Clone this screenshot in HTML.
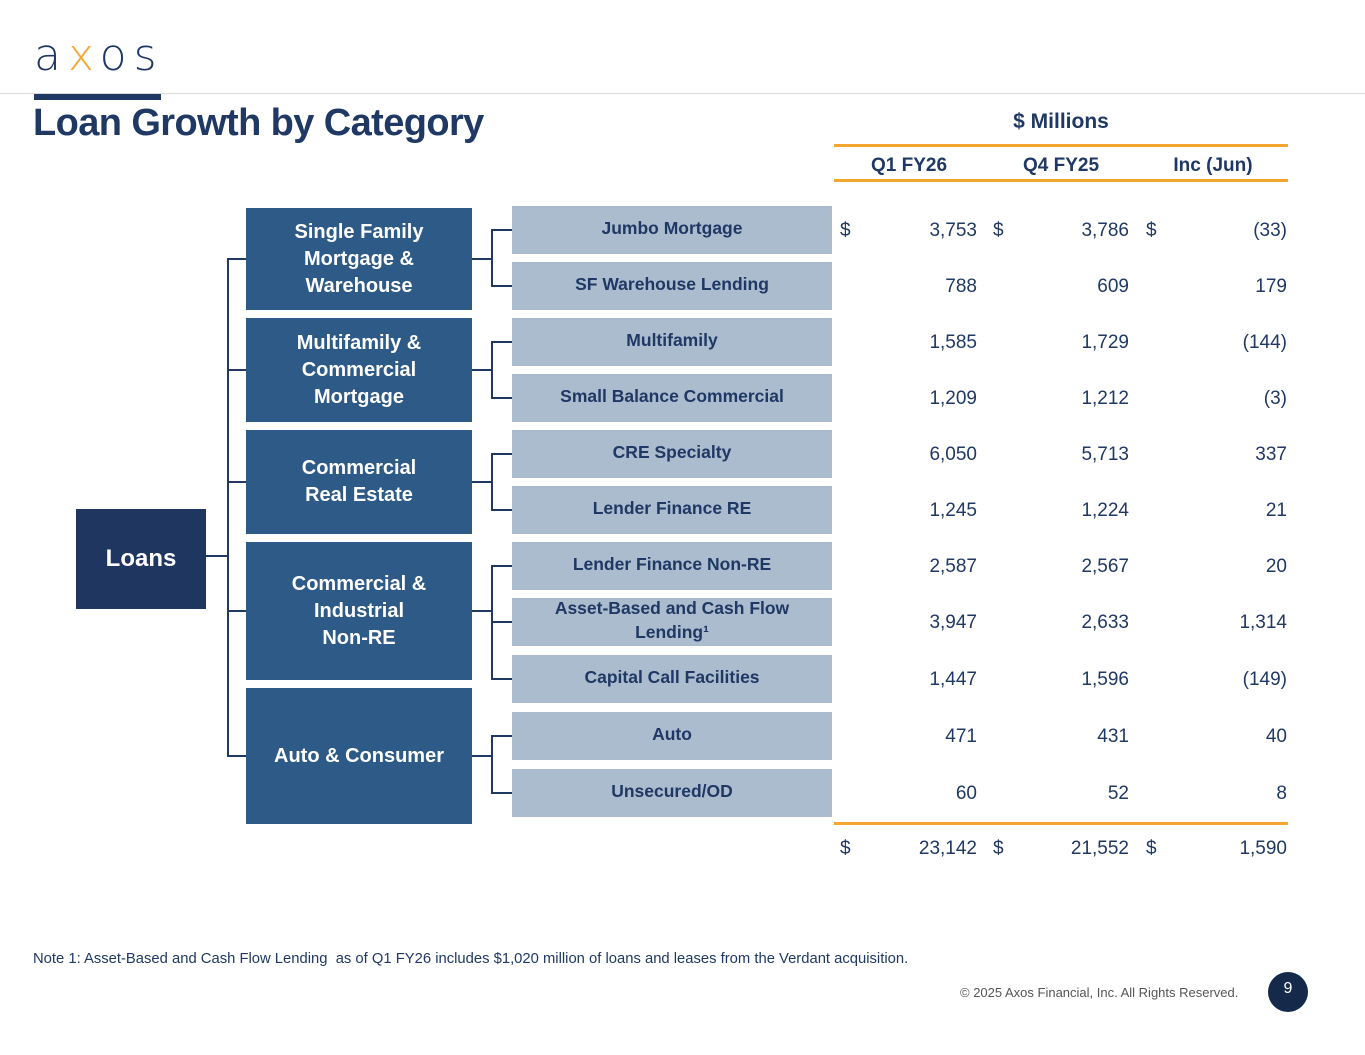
<!DOCTYPE html>
<html><head><meta charset="utf-8"><style>
body{margin:0;width:1365px;height:1055px;background:#fff;position:relative;overflow:hidden;font-family:"Liberation Sans",sans-serif;color:#1f3864}
.a{position:absolute}
.box{position:absolute;display:flex;align-items:center;justify-content:center;text-align:center;font-weight:bold;box-sizing:border-box}
.cat{background:#2e5a87;color:#fff;font-size:20px;line-height:27px}
.sub{background:#abbccf;color:#1f3864;font-size:17.5px;line-height:24px;padding-bottom:4px}
.num{position:absolute;font-size:19px;color:#1f3864}
.ln{position:absolute;background:#1f3864}
.or{position:absolute;background:#f4a630;height:3px;left:834px;width:454px}
</style></head><body>
<div class="a" style="left:34px;top:30px;font-size:44px;letter-spacing:7px;color:#1f3864;font-family:'DejaVu Sans',sans-serif;font-weight:300">a<span style="color:#f4a630">x</span>os</div>
<div class="a" style="left:0;top:93px;width:1365px;height:1px;background:#d9d9d9"></div>
<div class="a" style="left:34px;top:94px;width:127px;height:6px;background:#1f3864"></div>
<div class="a" style="left:33px;top:102px;font-size:38px;font-weight:bold;color:#1f3864;letter-spacing:-0.6px">Loan Growth by Category</div>

<div class="a" style="left:834px;width:454px;top:110px;text-align:center;font-size:21px;font-weight:bold">$ Millions</div>
<div class="or" style="top:144px"></div>
<div class="a" style="left:834px;width:150px;top:155px;text-align:center;font-size:19px;font-weight:bold">Q1 FY26</div>
<div class="a" style="left:986px;width:150px;top:155px;text-align:center;font-size:19px;font-weight:bold">Q4 FY25</div>
<div class="a" style="left:1138px;width:150px;top:155px;text-align:center;font-size:19px;font-weight:bold">Inc (Jun)</div>
<div class="or" style="top:179px"></div>
<div class="or" style="top:822px"></div>

<div class="box" style="left:76px;top:509px;width:130px;height:100px;background:#1e3660;color:#fff;font-size:24px">Loans</div>

<div id="tree"></div>

<div class="a" style="left:33px;top:951px;font-size:14.8px;color:#1f3864">Note 1: Asset-Based and Cash Flow Lending&nbsp; as of Q1 FY26 includes $1,020 million of loans and leases from the Verdant acquisition.</div>
<div class="a" style="left:960px;top:985px;font-size:13px;color:#555">© 2025 Axos Financial, Inc. All Rights Reserved.</div>
<div class="box" style="left:1268px;top:972px;width:40px;height:40px;border-radius:20px;background:#152a4a;color:#fff;font-size:16px;font-weight:normal;padding-bottom:6px">9</div>

<script>
const categories=["Single Family<br>Mortgage &amp;<br>Warehouse","Multifamily &amp;<br>Commercial<br>Mortgage","Commercial<br>Real Estate","Commercial &amp;<br>Industrial<br>Non-RE","Auto &amp; Consumer"];
const subcategories=["Jumbo Mortgage","SF Warehouse Lending","Multifamily","Small Balance Commercial","CRE Specialty","Lender Finance RE","Lender Finance Non-RE","Asset-Based and Cash Flow<br>Lending¹","Capital Call Facilities","Auto","Unsecured/OD"];
const subParent=[0,0,1,1,2,2,3,3,3,4,4];
const q1fy26=["3,753","788","1,585","1,209","6,050","1,245","2,587","3,947","1,447","471","60"];
const q4fy25=["3,786","609","1,729","1,212","5,713","1,224","2,567","2,633","1,596","431","52"];
const incJun=["(33)","179","(144)","(3)","337","21","20","1,314","(149)","40","8"];
const totals=["23,142","21,552","1,590"];

const root=document.getElementById('tree');
function mk(cls,st,html){const d=document.createElement('div');d.className=cls;d.style.cssText=st;if(html!==undefined)d.innerHTML=html;root.appendChild(d);return d;}
const subTop=[206,262,318,374,430,486,542,598,655,712,769];
const catBox=[[208,102],[318,104],[430,104],[542,138],[688,136]];
const subMid=subTop.map(t=>t+24);
subcategories.forEach((s,i)=>{
  const b=mk('box sub',`left:512px;top:${subTop[i]}px;width:320px;height:48px`,s);
  
  
  const cols=[[q1fy26,977,840],[q4fy25,1129,993],[incJun,1287,1146]];
  cols.forEach((c,k)=>{
    const n=mk('num',`left:${c[1]-120}px;width:120px;text-align:right;top:${subMid[i]-10}px`,c[0][i]);
    
    
    if(i===0){const d=mk('num',`left:${c[2]}px;top:${subMid[i]-10}px`,'$');
      
      }
  });
});
totals.forEach((t,k)=>{
  const r=[977,1129,1287][k],dl=[840,993,1146][k];
  const n=mk('num',`left:${r-120}px;width:120px;text-align:right;top:838px`,t);
  
  
  const d=mk('num',`left:${dl}px;top:838px`,'$');
  
  
});
const catMid=[];
categories.forEach((c,i)=>{
  const [t,h]=catBox[i];
  const b=mk('box cat',`left:246px;top:${t}px;width:226px;height:${h}px`,c);
  
  
  const m=t+h/2;catMid.push(m);
  const hl=mk('ln',`left:228px;top:${m-1}px;width:18px;height:2px`);
  
  
  const kids=subMid.filter((_,j)=>subParent[j]===i);
  const lo=Math.min(...kids),hi=Math.max(...kids);
  const v=mk('ln',`left:491px;top:${lo-1}px;width:2px;height:${hi-lo+2}px`);
  
  
  const h2=mk('ln',`left:472px;top:${m-1}px;width:20px;height:2px`);
  
  
  kids.forEach(k=>{const x=mk('ln',`left:491px;top:${k-1}px;width:21px;height:2px`);
    
    });
});
const tr=mk('ln',`left:227px;top:${catMid[0]-1}px;width:2px;height:${catMid[4]-catMid[0]+2}px`);


const lc=mk('ln',`left:206px;top:555px;width:22px;height:2px`);


</script>
</body></html>
